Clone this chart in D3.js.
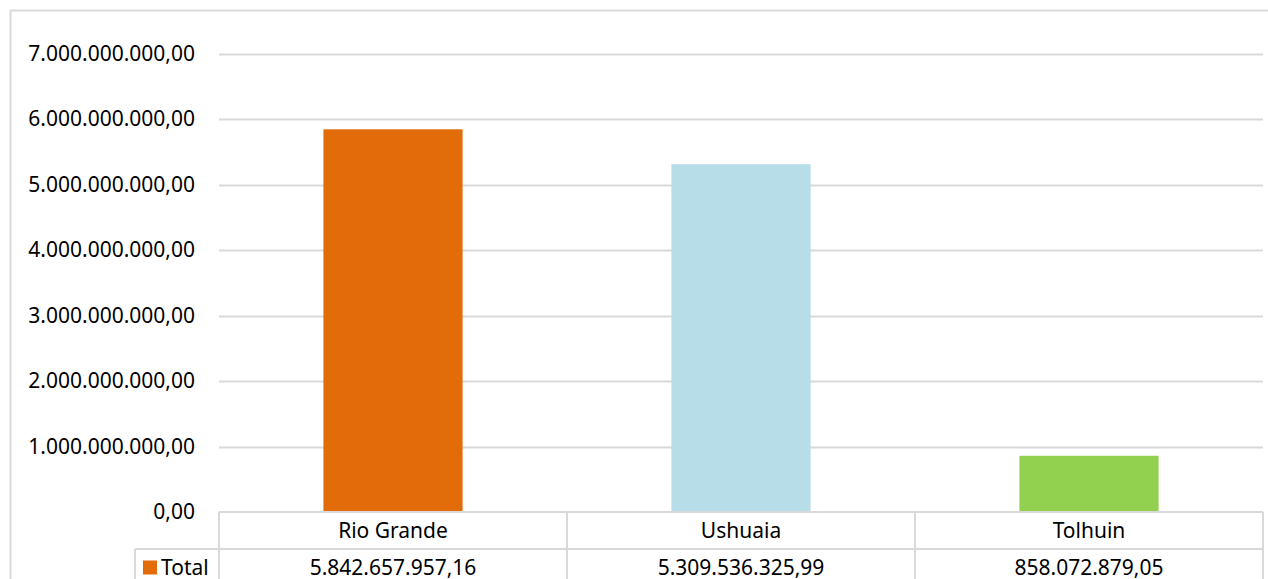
<!DOCTYPE html>
<html>
<head>
<meta charset="utf-8">
<script src="https://cdn.jsdelivr.net/npm/d3@7"></script>
<style>
  body { margin: 0; background: #fff; }
  svg text { font-family: "Noto Sans", "Open Sans", sans-serif; fill: #000; }
</style>
</head>
<body>
<svg id="chart" width="1268" height="579"></svg>
<script>
// data
var categories = ["Rio Grande", "Ushuaia", "Tolhuin"];
var totals = [5842657957.16, 5309536325.99, 858072879.05];
var barColors = ["#E36C0A", "#B7DDE8", "#92D050"];
var seriesName = "Total";
var yTicks = [0, 1e9, 2e9, 3e9, 4e9, 5e9, 6e9, 7e9];

const gridColor = "#d9d9d9",
  plotLeft = 219,
  plotRight = 1263,
  plotTop = 53.5,
  plotBottom = 512,
  rowHeight = 37,
  fontSize = 21;

var svg = d3.select("#chart");

// esp number format: 1.000.000,00
var fmt = d3.formatLocale({
  decimal: ",",
  thousands: ".",
  grouping: [3],
  currency: ["", ""]
}).format(",.2f");

var x = d3.scaleBand().domain(categories).range([plotLeft, plotRight]).paddingInner(0).paddingOuter(0);
var y = d3.scaleLinear().domain([0, 7e9]).range([plotBottom, plotTop]);

// chart border
svg.append("rect")
  .attr("x", 10.5).attr("y", 10.5)
  .attr("width", 1265).attr("height", 620)
  .attr("fill", "none")
  .attr("stroke", gridColor)
  .attr("stroke-width", 2);

// gridlines
svg.append("g")
  .selectAll("line")
  .data(yTicks.filter(function (d) { return d > 0; }))
  .enter()
  .append("line")
  .attr("x1", plotLeft)
  .attr("x2", plotRight)
  .attr("y1", function (d) { return Math.round(y(d)) + 0.5; })
  .attr("y2", function (d) { return Math.round(y(d)) + 0.5; })
  .attr("stroke", gridColor)
  .attr("stroke-width", 2);

// y axis labels
var yAxis = d3.axisLeft(y).tickValues(yTicks).tickFormat(fmt).tickSize(0).tickPadding(0);
svg.append("g")
  .attr("transform", "translate(195,0)")
  .call(yAxis)
  .call(function (g) { g.select(".domain").remove(); })
  .call(function (g) {
    g.selectAll("text")
      .attr("font-size", fontSize)
      .attr("font-family", null)
      .attr("fill", "#000");
  });

// bars
var barW = x.bandwidth() * 0.4;
svg.append("g")
  .selectAll("rect")
  .data(categories)
  .enter()
  .append("rect")
  .attr("x", function (d) { return x(d) + (x.bandwidth() - barW) / 2; })
  .attr("y", function (d, i) { return y(totals[i]); })
  .attr("width", barW)
  .attr("height", function (d, i) { return y(0) - y(totals[i]); })
  .attr("fill", function (d, i) { return barColors[i]; });

// data table
var table = svg.append("g").attr("stroke", gridColor).attr("stroke-width", 2).attr("fill", "none");
var legendLeft = 135;
table.append("line").attr("x1", plotLeft).attr("x2", plotRight).attr("y1", plotBottom).attr("y2", plotBottom);
table.append("line").attr("x1", legendLeft).attr("x2", plotRight)
  .attr("y1", plotBottom + rowHeight).attr("y2", plotBottom + rowHeight);
table.append("line").attr("x1", legendLeft).attr("x2", plotRight)
  .attr("y1", plotBottom + rowHeight * 2).attr("y2", plotBottom + rowHeight * 2);
table.append("line").attr("x1", legendLeft).attr("x2", legendLeft)
  .attr("y1", plotBottom + rowHeight).attr("y2", plotBottom + rowHeight * 2);
table.selectAll(".col")
  .data(categories.map(function (c) { return x(c); }).concat([plotRight]))
  .enter()
  .append("line")
  .attr("x1", function (d) { return d; })
  .attr("x2", function (d) { return d; })
  .attr("y1", plotBottom)
  .attr("y2", plotBottom + rowHeight * 2);

svg.append("g")
  .selectAll("text")
  .data(categories)
  .enter()
  .append("text")
  .attr("x", function (d) { return x(d) + x.bandwidth() / 2; })
  .attr("y", plotBottom + rowHeight / 2)
  .attr("dy", "0.35em")
  .attr("text-anchor", "middle")
  .attr("font-size", fontSize)
  .text(function (d) { return d; });

svg.append("g")
  .selectAll("text")
  .data(categories)
  .enter()
  .append("text")
  .attr("x", function (d) { return x(d) + x.bandwidth() / 2; })
  .attr("y", plotBottom + rowHeight * 1.5)
  .attr("dy", "0.35em")
  .attr("text-anchor", "middle")
  .attr("font-size", fontSize)
  .text(function (d, i) { return fmt(totals[i]); });

// legend key in the table
svg.append("rect")
  .attr("x", 143).attr("y", plotBottom + rowHeight * 1.5 - 7)
  .attr("width", 14).attr("height", 14)
  .attr("fill", barColors[0]);
svg.append("text")
  .attr("x", 161)
  .attr("y", plotBottom + rowHeight * 1.5)
  .attr("dy", "0.35em")
  .attr("font-size", fontSize)
  .text(seriesName);
</script>
</body>
</html>
